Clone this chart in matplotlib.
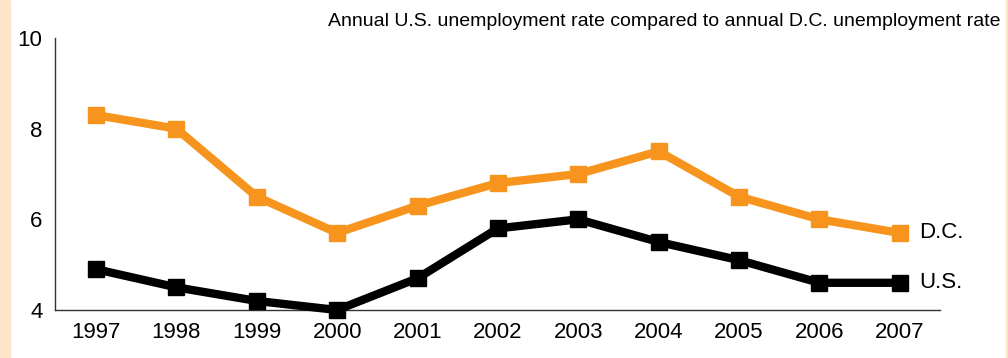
import matplotlib
matplotlib.use('Agg')
import matplotlib.pyplot as plt
from matplotlib.patches import Rectangle

years = [1997, 1998, 1999, 2000, 2001, 2002, 2003, 2004, 2005, 2006, 2007]
dc_rate = [8.3, 8.0, 6.5, 5.7, 6.3, 6.8, 7.0, 7.5, 6.5, 6.0, 5.7]
us_rate = [4.9, 4.5, 4.2, 4.0, 4.7, 5.8, 6.0, 5.5, 5.1, 4.6, 4.6]
y_ticks = [4, 6, 8, 10]
title = 'Annual U.S. unemployment rate compared to annual D.C. unemployment rate'

orange = '#F7941D'
beige = '#FDE5C9'

plt.rcParams['font.family'] = ['Liberation Sans', 'DejaVu Sans']

fig = plt.figure(figsize=(10.08, 3.58), dpi=100)
# beige strips on the edges
fig.patches.append(Rectangle((0, 0), 10 / 1008, 1, transform=fig.transFigure, color=beige, zorder=0))
fig.patches.append(Rectangle((1006 / 1008, 0), 2 / 1008, 1, transform=fig.transFigure, color=beige, zorder=0))

ax = fig.add_axes([55 / 1008, 48 / 358, 885 / 1008, 272 / 358])
ax.plot(years, dc_rate, color=orange, lw=6, marker='s', ms=12, clip_on=False, zorder=3)
ax.plot(years, us_rate, color='black', lw=6, marker='s', ms=12, clip_on=False, zorder=3)

ax.set_ylim(4, 10)
ax.set_xlim(1996.49, 2007.5)
ax.set_yticks(y_ticks)
ax.set_xticks(years)
ax.tick_params(length=0, labelsize=16, pad=9)
ax.tick_params(axis='y', pad=9)
for s in ['top', 'right']:
    ax.spines[s].set_visible(False)
for s in ['left', 'bottom']:
    ax.spines[s].set_color('#333333')
    ax.spines[s].set_linewidth(1.0)

ax.text(2007.24, dc_rate[-1], 'D.C.', fontsize=16, va='center', ha='left')
ax.text(2007.24, us_rate[-1], 'U.S.', fontsize=16, va='center', ha='left')

fig.text(1000 / 1008, 1 - 21 / 358, title, ha='right', va='center', fontsize=14,
         family=['Liberation Sans Narrow', 'Liberation Sans', 'DejaVu Sans'], stretch='condensed')

fig.savefig('out.png', dpi=100)
